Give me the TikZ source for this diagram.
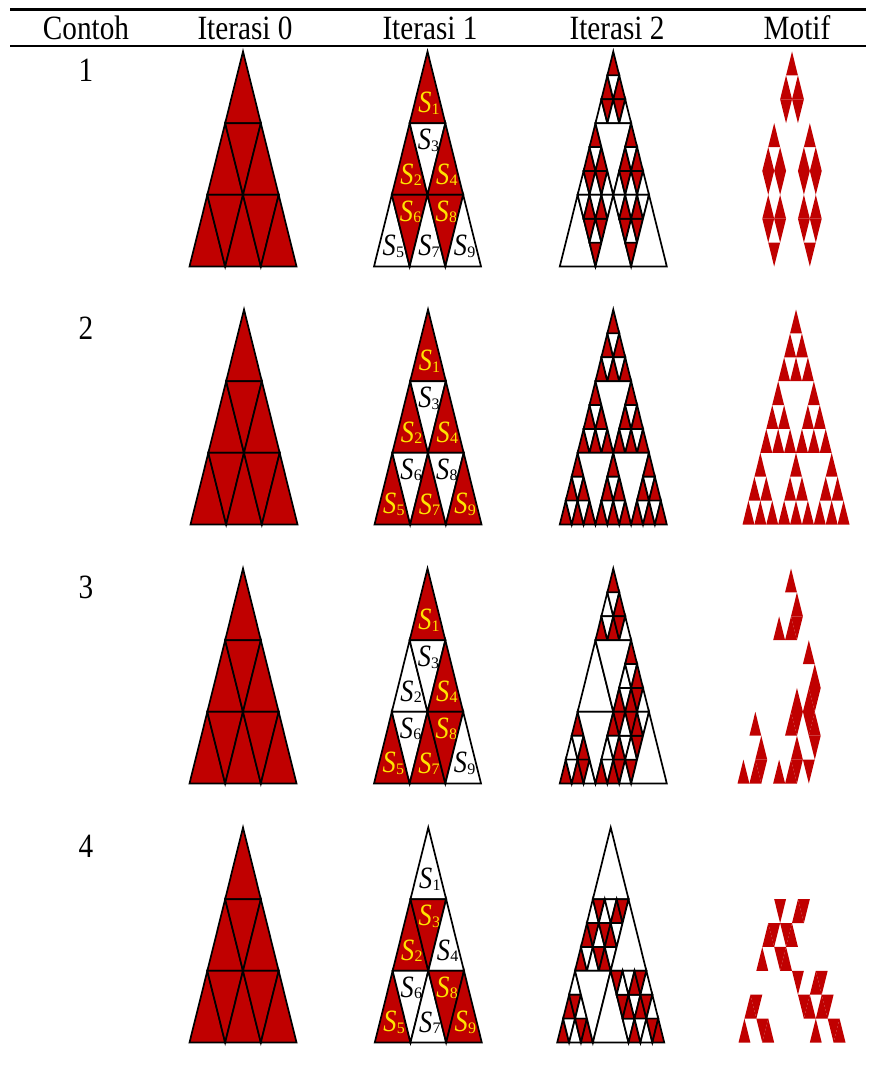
\documentclass[tikz,border=0pt]{standalone}
\usepackage{fontspec}
\setmainfont{Liberation Serif}
\newfontfamily\condfont[FakeStretch=0.86]{Liberation Serif}
\newfontfamily\Sfont[FakeStretch=0.85]{Liberation Serif}
\definecolor{myred}{RGB}{192,0,0}
\definecolor{myyel}{RGB}{255,228,0}
\tikzset{
  redtri/.style={fill=myred,draw=black,line width=1.7pt},
  whitetri/.style={fill=white,draw=black,line width=1.7pt},
  motiftri/.style={fill=myred},
  head/.style={font=\condfont\fontsize{34}{34}\selectfont, anchor=base, inner sep=0pt},
  labY/.style={text=myyel,inner sep=0pt},
  labK/.style={text=black,inner sep=0pt},
  rulethick/.style={line width=2.6pt},
  rulethin/.style={line width=1.8pt}
}
\newcommand\Slab[1]{{\Sfont\itshape\fontsize{31}{31}\selectfont S}\kern0.3pt\raisebox{-1.4pt}{\fontsize{16}{16}\selectfont #1}}
\def\TW{107}
\def\TH{215}
% triangle: cx, band top y, w, h, orientation, style
\newcommand\trip[6]{%
  \ifnum#5>0
    \path[#6] (#1,#2) -- ({#1-#3/2},{#2+#4}) -- ({#1+#3/2},{#2+#4}) -- cycle;
  \else
    \path[#6] ({#1-#3/2},#2) -- ({#1+#3/2},#2) -- (#1,{#2+#4}) -- cycle;
  \fi}
\newcommand\childdata[1]{\ifcase#1\or
  \def\dxk{0}\def\rk{0}\def\sk{1}\or
  \def\dxk{-0.5}\def\rk{1}\def\sk{1}\or
  \def\dxk{0}\def\rk{1}\def\sk{-1}\or
  \def\dxk{0.5}\def\rk{1}\def\sk{1}\or
  \def\dxk{-1}\def\rk{2}\def\sk{1}\or
  \def\dxk{-0.5}\def\rk{2}\def\sk{-1}\or
  \def\dxk{0}\def\rk{2}\def\sk{1}\or
  \def\dxk{0.5}\def\rk{2}\def\sk{-1}\or
  \def\dxk{1}\def\rk{2}\def\sk{1}\fi}
% k, cx, yb, W, H, o  ->  \ncx \nyb \nw \nh \no
\newcommand\getchild[6]{%
  \childdata{#1}%
  \pgfmathsetmacro\nw{#4/3}%
  \pgfmathsetmacro\nh{#5/3}%
  \pgfmathsetmacro\ncx{#2+\dxk*\nw}%
  \ifnum#6>0 \pgfmathsetmacro\nyb{#3+\rk*\nh}\else\pgfmathsetmacro\nyb{#3+(2-\rk)*\nh}\fi
  \pgfmathtruncatemacro\no{#6*\sk}}
% number, mask, apex y, C0, C1, C2, CM
\newcommand\exrow[7]{%
  \node[head] (num#1) at (86,{#3+30}) {#1};
  % Iterasi 0
  \foreach \k in {1,...,9}{%
    \getchild{\k}{#4}{#3}{\TW}{\TH}{1}%
    \trip{\ncx}{\nyb}{\nw}{\nh}{\no}{redtri}}
  % Iterasi 1
  \foreach \k in {1,...,9}{%
    \getchild{\k}{#5}{#3}{\TW}{\TH}{1}%
    \pgfmathtruncatemacro\isk{#2[\k-1]}%
    \ifnum\no>0 \pgfmathsetmacro\ly{\nyb+0.72*\nh}\pgfmathsetmacro\lx{\ncx+1.5}\else\pgfmathsetmacro\ly{\nyb+0.24*\nh}\pgfmathsetmacro\lx{\ncx+1}\fi
    \ifnum\isk=1
      \trip{\ncx}{\nyb}{\nw}{\nh}{\no}{redtri}
      \node[labY] (r#1s\k) at (\lx,\ly) {\Slab{\k}};
    \else
      \trip{\ncx}{\nyb}{\nw}{\nh}{\no}{whitetri}
      \node[labK] (r#1s\k) at (\lx,\ly) {\Slab{\k}};
    \fi}
  % Iterasi 2
  \foreach \k in {1,...,9}{%
    \getchild{\k}{#6}{#3}{\TW}{\TH}{1}%
    \pgfmathtruncatemacro\isk{#2[\k-1]}%
    \ifnum\isk=1
      \let\Acx\ncx \let\Ayb\nyb \let\Aw\nw \let\Ah\nh \let\Ao\no
      \foreach \j in {1,...,9}{%
        \getchild{\j}{\Acx}{\Ayb}{\Aw}{\Ah}{\Ao}%
        \pgfmathtruncatemacro\isj{#2[\j-1]}%
        \ifnum\isj=1 \trip{\ncx}{\nyb}{\nw}{\nh}{\no}{redtri}\else\trip{\ncx}{\nyb}{\nw}{\nh}{\no}{whitetri}\fi}%
    \else
      \trip{\ncx}{\nyb}{\nw}{\nh}{\no}{whitetri}%
    \fi}
  % Motif
  \foreach \k in {1,...,9}{%
    \getchild{\k}{#7}{#3}{\TW}{\TH}{1}%
    \pgfmathtruncatemacro\isk{#2[\k-1]}%
    \ifnum\isk=1
      \let\Acx\ncx \let\Ayb\nyb \let\Aw\nw \let\Ah\nh \let\Ao\no
      \foreach \j in {1,...,9}{%
        \getchild{\j}{\Acx}{\Ayb}{\Aw}{\Ah}{\Ao}%
        \pgfmathtruncatemacro\isj{#2[\j-1]}%
        \ifnum\isj=1 \trip{\ncx}{\nyb}{\nw}{\nh}{\no}{motiftri}\fi}%
    \fi}
}
\begin{document}
\begin{tikzpicture}[x=1pt,y=-1pt]
  \useasboundingbox[fill=white] (0,0) rectangle (870,1078);
  % rules
  \coordinate (tl) at (10,9.5);  \coordinate (tr) at (866,9.5);
  \coordinate (ml) at (10,46);   \coordinate (mr) at (866,46);
  \draw[rulethick] (tl) -- (tr);
  \draw[rulethin] (ml) -- (mr);
  % header
  \node[head] (h0) at (86,40) {Contoh};
  \node[head] (h1) at (245,40) {Iterasi 0};
  \node[head] (h2) at (430,40) {Iterasi 1};
  \node[head] (h3) at (617,40) {Iterasi 2};
  \node[head] (h4) at (797,40) {Motif};
  % rows
  \exrow{1}{{1,1,0,1,0,1,0,1,0}}{51.5}{243}{427.5}{613.3}{792}
  \exrow{2}{{1,1,0,1,1,0,1,0,1}}{309.5}{244}{428}{613.3}{796}
  \exrow{3}{{1,0,0,1,1,0,1,1,0}}{568.5}{243}{427.5}{613.3}{791}
  \exrow{4}{{0,1,1,0,1,0,0,1,1}}{827.5}{243}{428.3}{610.7}{792}
\end{tikzpicture}
\end{document}
